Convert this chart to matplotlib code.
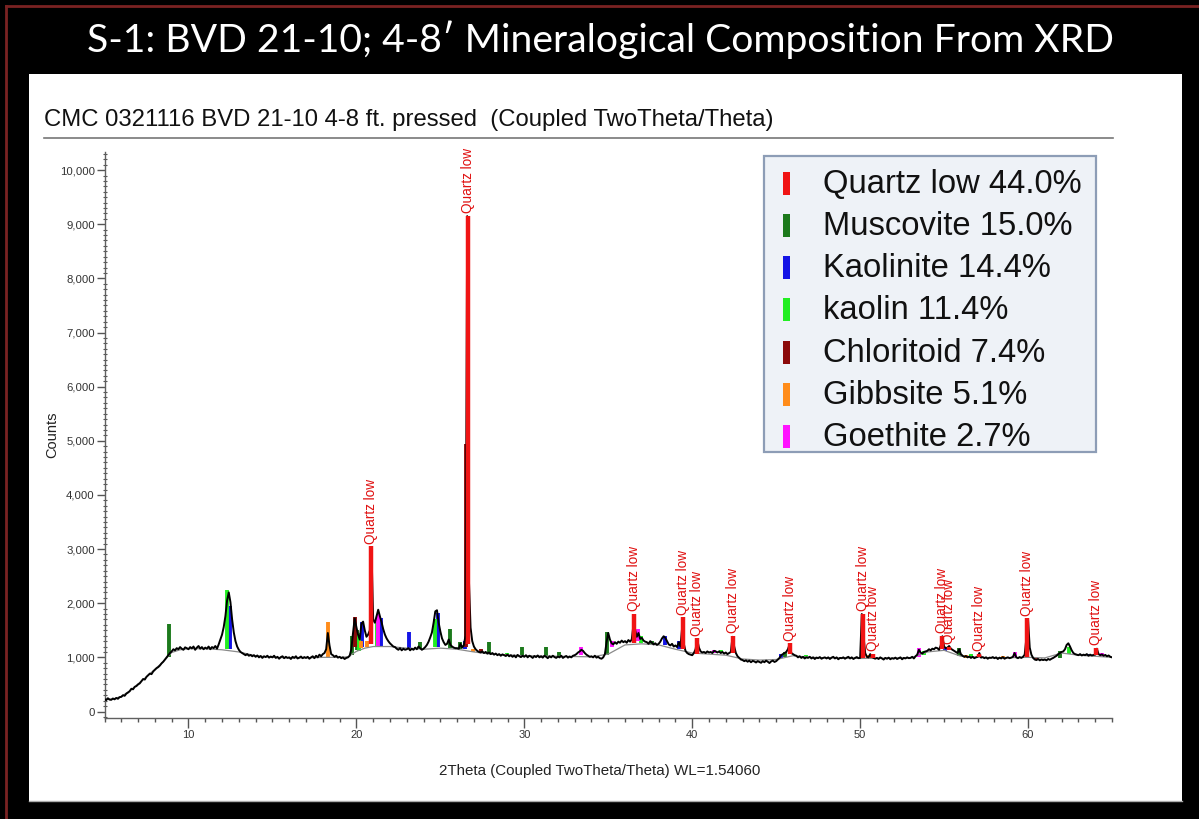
import numpy as np
import matplotlib
matplotlib.use("Agg")
import matplotlib.pyplot as plt
from matplotlib.patches import Rectangle
from matplotlib.lines import Line2D
from matplotlib.ticker import MultipleLocator, FixedLocator, FuncFormatter

# --- measured pattern: counts on a 0.1 deg 2theta step, one row per degree ---
counts = [
    230, 210, 245, 220, 215, 240, 225, 250, 235, 265,            # 5
    270, 300, 290, 330, 350, 375, 420, 410, 455, 470,            # 6
    500, 520, 560, 600, 590, 640, 670, 700, 690, 740,            # 7
    770, 800, 820, 850, 890, 920, 960, 1000, 1040, 1080,         # 8
    1110, 1150, 1130, 1170, 1150, 1190, 1160, 1140, 1185, 1170,  # 9
    1150, 1190, 1165, 1200, 1140, 1180, 1210, 1160, 1190, 1150,  # 10
    1180, 1160, 1200, 1150, 1190, 1170, 1210, 1160, 1240, 1330,  # 11
    1420, 1560, 1760, 2050, 2200, 2020, 1700, 1460, 1300, 1200,  # 12
    1140, 1100, 1080, 1060, 1040, 1060, 1030, 1045, 1020, 1040,  # 13
    1010, 1035, 1000, 1025, 990, 1020, 1005, 1030, 995, 1015,    # 14
    1000, 1030, 990, 1010, 975, 1005, 1020, 985, 1010, 990,      # 15
    1000, 970, 1010, 990, 1020, 980, 995, 1015, 985, 1005,       # 16
    990, 1010, 975, 1000, 1020, 985, 1030, 1000, 1050, 1020,     # 17
    1060, 1080, 1150, 1450, 1220, 1060, 1040, 1010, 1030, 995,   # 18
    1010, 985, 1000, 970, 990, 1000, 1030, 1150, 1450, 1720,     # 19
    1560, 1420, 1330, 1620, 1660, 1500, 1380, 1420, 1500, 3000,  # 20
    1700, 1640, 1760, 1880, 1760, 1650, 1520, 1420, 1350, 1300,  # 21
    1260, 1230, 1200, 1190, 1160, 1140, 1170, 1130, 1160, 1140,  # 22
    1150, 1170, 1130, 1160, 1140, 1180, 1150, 1200, 1170, 1140,  # 23
    1160, 1190, 1230, 1290, 1370, 1460, 1640, 1850, 1870, 1640,  # 24
    1480, 1350, 1280, 1230, 1250, 1330, 1230, 1200, 1180, 1170,  # 25
    1170, 1160, 1250, 1180, 1230, 1400, 9150, 2450, 1550, 1300,  # 26
    1200, 1150, 1120, 1100, 1090, 1110, 1080, 1100, 1070, 1090,  # 27
    1060, 1080, 1050, 1070, 1040, 1060, 1030, 1055, 1040, 1025,  # 28
    1050, 1020, 1040, 1010, 1035, 1000, 1045, 1020, 1005, 1030,  # 29
    1010, 1040, 1000, 1030, 1015, 990, 1025, 1005, 1035, 1000,   # 30
    1020, 995, 1030, 1010, 985, 1020, 1000, 1030, 1005, 990,     # 31
    1015, 1000, 1030, 990, 1010, 1025, 995, 1015, 1000, 1030,    # 32
    1040, 1060, 1090, 1110, 1140, 1120, 1080, 1050, 1030, 1010,  # 33
    1020, 1000, 1030, 995, 1010, 985, 975, 1000, 1060, 1280,     # 34
    1450, 1330, 1260, 1240, 1280, 1250, 1290, 1270, 1310, 1280,  # 35
    1300, 1270, 1320, 1290, 1330, 1600, 1500, 1380, 1450, 1340,  # 36
    1360, 1310, 1290, 1280, 1250, 1300, 1270, 1240, 1260, 1230,  # 37
    1250, 1290, 1350, 1390, 1360, 1300, 1240, 1220, 1250, 1200,  # 38
    1220, 1190, 1280, 1200, 1550, 1250, 1120, 1080, 1060, 1050,  # 39
    1040, 1080, 1150, 1330, 1180, 1110, 1090, 1100, 1080, 1110,  # 40
    1090, 1100, 1080, 1120, 1110, 1090, 1110, 1080, 1100, 1070,  # 41
    1090, 1060, 1080, 1100, 1380, 1200, 1080, 1020, 990, 960,    # 42
    950, 930, 945, 920, 940, 910, 935, 925, 905, 930,            # 43
    915, 900, 930, 910, 940, 920, 895, 925, 940, 915,            # 44
    930, 960, 990, 1040, 1060, 1080, 1100, 1150, 1240, 1080,     # 45
    1060, 1040, 1030, 1000, 1020, 990, 1010, 980, 1000, 990,     # 46
    1010, 980, 1000, 970, 995, 985, 1005, 975, 990, 1000,        # 47
    980, 1000, 970, 995, 1010, 980, 1000, 965, 990, 985,         # 48
    1000, 975, 995, 1010, 980, 1000, 970, 990, 1005, 985,        # 49
    990, 1800, 1400, 1080, 1010, 1000, 1060, 1010, 990, 975,     # 50
    990, 970, 1000, 980, 960, 990, 975, 995, 965, 985,           # 51
    975, 995, 970, 985, 1000, 965, 990, 980, 1000, 985,          # 52
    990, 1010, 980, 1020, 1050, 1140, 1090, 1070, 1100, 1110,    # 53
    1120, 1150, 1130, 1160, 1150, 1180, 1170, 1140, 1220, 1390,  # 54
    1200, 1170, 1180, 1210, 1160, 1140, 1120, 1100, 1080, 1150,  # 55
    1060, 1030, 1010, 1025, 1000, 1015, 990, 1010, 985, 1000,    # 56
    1010, 1080, 995, 1005, 985, 1000, 975, 995, 990, 1005,       # 57
    985, 1000, 970, 995, 980, 1005, 975, 990, 1000, 985,         # 58
    995, 1010, 1080, 1000, 985, 1005, 990, 1010, 1050, 1350,     # 59
    1700, 1180, 1050, 990, 960, 950, 970, 945, 960, 950,         # 60
    960, 945, 970, 955, 975, 990, 1010, 1030, 1060, 1080,        # 61
    1100, 1110, 1150, 1230, 1260, 1200, 1130, 1080, 1060, 1050,  # 62
    1040, 1060, 1035, 1050, 1040, 1060, 1030, 1050, 1035, 1045,  # 63
    1050, 1160, 1060, 1040, 1055, 1030, 1045, 1020, 1035, 1010,  # 64
    1000,                                                        # 65
]
two_theta = np.round(np.arange(5.0, 65.05, 0.1), 1)

# fitted background line
bg_theta = [5, 5.5, 6, 6.5, 7, 7.5, 8, 8.5, 9, 9.5, 10, 11, 12, 13, 14, 15, 16, 17, 18, 19,
            19.5, 20, 20.5, 21, 22, 23, 24, 25, 26, 27, 28, 30, 32, 34, 35, 36, 37, 38, 39, 40,
            42, 43, 44, 45, 46, 47, 50, 53, 54, 55, 56, 58, 60, 61, 62, 63, 65]
bg_counts = [225, 230, 280, 380, 510, 640, 780, 920, 1090, 1140, 1160, 1160, 1140, 1100, 1030,
             1000, 990, 990, 1000, 1000, 1010, 1110, 1170, 1200, 1200, 1170, 1150, 1170, 1150,
             1100, 1060, 1030, 1020, 1010, 1060, 1230, 1250, 1230, 1150, 1080, 1040, 970, 950,
             960, 1030, 1000, 980, 990, 1100, 1130, 1020, 990, 1000, 990, 1080, 1040, 1000]

# phase peaks: position, bottom and top of each stick
quartz_pos = [20.85, 26.65, 36.55, 39.45, 40.30, 42.45, 45.80, 50.15, 50.75, 54.85, 55.30, 57.10, 59.95, 64.05]
quartz_lo = [1250, 1250, 1270, 1150, 1060, 1080, 1060, 990, 990, 1150, 1130, 1000, 1000, 1040]
quartz_hi = [3050, 9150, 1810, 1740, 1350, 1400, 1260, 1810, 1070, 1400, 1190, 1070, 1720, 1170]

muscovite_pos = [8.85, 19.75, 20.05, 23.80, 25.55, 26.20, 27.90, 29.85, 31.30, 32.05, 34.95, 37.60, 45.50, 55.90, 61.90]
muscovite_lo = [1000, 1050, 1130, 1150, 1180, 1160, 1080, 1020, 1020, 1000, 1050, 1240, 1000, 1030, 990]
muscovite_hi = [1620, 1400, 1500, 1290, 1530, 1290, 1280, 1185, 1200, 1100, 1460, 1300, 1090, 1180, 1110]

kaolinite_pos = [12.45, 20.35, 21.45, 23.15, 24.85, 26.45, 28.40, 38.40, 39.20, 45.30, 55.05, 63.50]
kaolinite_lo = [1150, 1200, 1200, 1150, 1200, 1150, 1040, 1230, 1150, 980, 1120, 1030]
kaolinite_hi = [1950, 1650, 1720, 1465, 1815, 1300, 1060, 1400, 1300, 1070, 1180, 1070]

kaolin_pos = [12.30, 20.15, 21.20, 24.70, 28.95, 36.95, 41.70, 46.80, 53.80, 56.60, 62.45]
kaolin_lo = [1150, 1120, 1200, 1200, 1020, 1260, 1080, 990, 1040, 990, 1060]
kaolin_hi = [2250, 1450, 1650, 1700, 1080, 1400, 1130, 1050, 1120, 1060, 1200]

chloritoid_pos = [19.90, 26.55, 27.45, 50.70, 60.45]
chloritoid_lo = [1200, 1200, 1080, 990, 950]
chloritoid_hi = [1740, 4950, 1150, 1060, 1010]

gibbsite_pos = [18.30, 20.25, 20.65, 26.95, 28.90, 50.45, 56.30, 58.50]
gibbsite_lo = [1000, 1180, 1190, 1100, 1020, 990, 990, 990]
gibbsite_hi = [1650, 1310, 1300, 1150, 1060, 1040, 1040, 1030]

goethite_pos = [21.30, 33.35, 35.20, 36.80, 41.30, 53.50, 59.20, 64.40]
goethite_lo = [1200, 1040, 1200, 1300, 1080, 1000, 1000, 1020]
goethite_hi = [1800, 1200, 1300, 1520, 1140, 1170, 1100, 1080]

phase_names = ["Quartz low 44.0%", "Muscovite 15.0%", "Kaolinite 14.4%", "kaolin 11.4%",
               "Chloritoid 7.4%", "Gibbsite 5.1%", "Goethite 2.7%"]
phase_colors = ["#f01414", "#1c7a1c", "#1414e6", "#22ee22", "#8b0a0a", "#ff8c1a", "#ff14ff"]

W, H = 1199, 819


def fx(px):
    return px / W


def fy(py):
    return 1 - py / H


plt.rcParams["font.family"] = ["Liberation Sans", "DejaVu Sans"]

fig = plt.figure(figsize=(W / 100, H / 100), dpi=100, facecolor="black")

# slide frame and white panel
fig.add_artist(Line2D([fx(6), fx(6)], [fy(6), 0], color="#7a2222", lw=2))
fig.add_artist(Line2D([fx(6), 1], [fy(6), fy(6)], color="#7a2222", lw=2))
fig.add_artist(Rectangle((fx(29), fy(802)), fx(1182) - fx(29), fy(74) - fy(802),
                         facecolor="white", edgecolor="none", zorder=-2))
fig.add_artist(Line2D([fx(29), fx(1182)], [fy(801), fy(801)], color="#aaaaaa", lw=1, zorder=-1))

fig.text(0.5008, fy(40), "S-1: BVD 21-10; 4-8\u2032 Mineralogical Composition From XRD",
         color="white", fontsize=28.2, ha="center", va="center", family=["Lato", "DejaVu Sans"])

fig.text(fx(44), fy(126), "CMC 0321116 BVD 21-10 4-8 ft. pressed  (Coupled TwoTheta/Theta)",
         fontsize=17.2, color="#111111", va="baseline")
fig.add_artist(Line2D([fx(44), fx(1113)], [fy(138), fy(138)], color="#777777", lw=1.2))

ax = fig.add_axes([fx(104.5), fy(718), fx(1112) - fx(104.5), fy(151.7) - fy(718)])
ax.patch.set_alpha(0)

phases = [
    (quartz_pos, quartz_lo, quartz_hi),
    (muscovite_pos, muscovite_lo, muscovite_hi),
    (kaolinite_pos, kaolinite_lo, kaolinite_hi),
    (kaolin_pos, kaolin_lo, kaolin_hi),
    (chloritoid_pos, chloritoid_lo, chloritoid_hi),
    (gibbsite_pos, gibbsite_lo, gibbsite_hi),
    (goethite_pos, goethite_lo, goethite_hi),
]

# minor phases under the pattern, quartz sticks on top
for (pos, lo, hi), col in list(zip(phases, phase_colors))[1:]:
    ax.vlines(pos, lo, hi, colors=col, linewidth=2.8, zorder=2)

ax.plot(bg_theta, bg_counts, color="#8a8a8a", lw=0.9, zorder=2.5)
ax.plot(two_theta, counts, color="black", lw=1.4, zorder=3)
ax.vlines(quartz_pos, quartz_lo, quartz_hi, colors=phase_colors[0], linewidth=3.2, zorder=4)

for p, h in zip(quartz_pos, quartz_hi):
    ax.annotate("Quartz low", xy=(p, h), xytext=(0, 2), textcoords="offset points",
                rotation=90, ha="center", va="bottom", color="#e01010", fontsize=9.8, zorder=5)

ax.set_xlim(5, 65)
ax.set_ylim(-120, 10340)
for side in ["top", "right"]:
    ax.spines[side].set_visible(False)
for side in ["left", "bottom"]:
    ax.spines[side].set_color("#606060")
    ax.spines[side].set_linewidth(1)

ax.xaxis.set_major_locator(FixedLocator([10, 20, 30, 40, 50, 60]))
ax.xaxis.set_minor_locator(MultipleLocator(1))
ax.yaxis.set_major_locator(MultipleLocator(1000))
ax.yaxis.set_minor_locator(MultipleLocator(100))
ax.yaxis.set_major_formatter(FuncFormatter(lambda v, _: f"{int(v):,}"))
ax.tick_params(axis="x", which="major", length=7, width=1, color="#555555", labelsize=8, labelcolor="#333333", pad=2)
ax.tick_params(axis="x", which="minor", length=3, width=1, color="#555555")
ax.tick_params(axis="y", which="major", length=6, width=1, color="#555555", labelsize=8.2, labelcolor="#333333", pad=1)
ax.tick_params(axis="y", which="minor", length=3, width=0.8, color="#555555", direction="inout")

ax.set_xlabel("2Theta (Coupled TwoTheta/Theta) WL=1.54060", fontsize=10.9, color="#222222", va="center")
ax.xaxis.set_label_coords(0.4918, -0.0936)
ax.set_ylabel("Counts", fontsize=10.5, color="#222222", va="center")
ax.yaxis.set_label_coords(-0.052, 0.5)

# legend panel
fig.add_artist(Rectangle((fx(764), fy(452)), fx(1096) - fx(764), fy(156) - fy(452),
                         facecolor="#eef2f7", edgecolor="#8d9db6", lw=1.6, zorder=6))
for i, (name, col) in enumerate(zip(phase_names, phase_colors)):
    yc = 183.3 + 42.2 * i
    fig.add_artist(Rectangle((fx(783), fy(yc + 11.5)), fx(790) - fx(783), 23 / H,
                             facecolor=col, edgecolor="none", zorder=7))
    fig.text(fx(823), fy(yc + 1), name, fontsize=23.6, color="#111111", va="center", zorder=7)

fig.savefig("out.png", dpi=100, facecolor=fig.get_facecolor())
